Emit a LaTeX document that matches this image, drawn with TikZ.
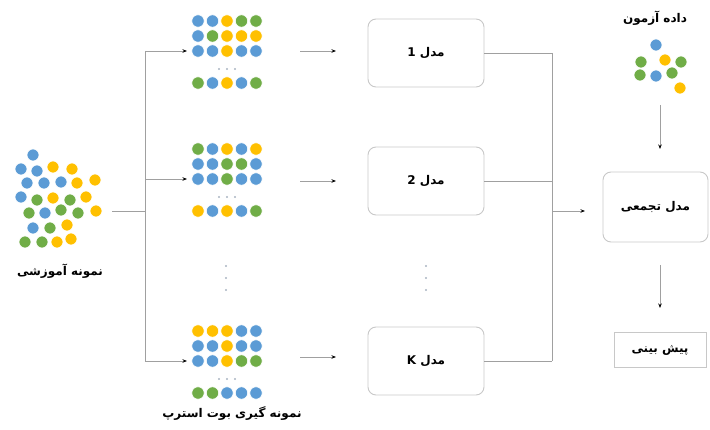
\documentclass[tikz,border=0pt]{standalone}
\usepackage{fontspec}
\newfontfamily\fa[Script=Arabic]{DejaVu Sans}
\TeXXeTstate=1
\usetikzlibrary{arrows.meta}
\definecolor{cb}{HTML}{5B9BD5}
\definecolor{cy}{HTML}{FFC000}
\definecolor{cg}{HTML}{70AD47}
\definecolor{ln}{HTML}{A0A0A0}
\definecolor{bx}{HTML}{C8C8C8}
\definecolor{ell}{HTML}{A9B4C2}
\newcommand\mydotrow[3]{\foreach \c [count=\i from 0] in {#3} {\filldraw[fill=\c,draw=white,line width=0.6pt] ({#1+\i*14.5},#2) circle (6.2);}}
\newcommand\myell[2]{\foreach \i in {-1,0,1} {\fill[ell] ({#1+\i*8},#2) circle (1.1);}}
\tikzset{
 conn/.style={draw=ln, line width=0.9pt},
 arr/.style={conn, -{Stealth[length=4.5pt,width=3.5pt,black]}},
 modelbox/.style={draw=bx, rounded corners=8pt, line width=0.9pt, minimum width=116pt, minimum height=68pt, font=\fa\bfseries\fontsize{12}{14}\selectfont},
 lbl/.style={font=\fa\bfseries\fontsize{12}{14}\selectfont, inner sep=1pt},
}
\begin{document}
\begin{tikzpicture}[x=1pt,y=-1pt]
\useasboundingbox (0,0) rectangle (710,430);
% training cluster
\foreach \px/\py/\c in {33/155/cb,
 21/169/cb,37/171/cb,53/167/cy,72/169/cy,
 27/183/cb,44/183/cb,61/182/cb,77/183/cy,95/180/cy,
 21/197/cb,37/200/cg,53/198/cy,70/200/cg,86/197/cy,
 29/213/cg,45/213/cb,61/210/cg,78/213/cg,96/211/cy,
 33/228/cb,50/228/cg,67/225/cy,
 25/242/cg,42/242/cg,57/242/cy,71/239/cy}
 {\filldraw[fill=\c,draw=white,line width=0.6pt] (\px,\py) circle (6);}
\node[lbl] (trainlbl) at (60,271) {\beginR نمونه آموزشی\endR};
% bootstrap grids
\mydotrow{198}{21}{cb,cb,cy,cg,cg}
\mydotrow{198}{36}{cb,cg,cy,cy,cy}
\mydotrow{198}{51}{cb,cb,cy,cb,cb}
\myell{227}{69}
\mydotrow{198}{83}{cg,cb,cy,cb,cg}
\mydotrow{198}{149}{cg,cb,cy,cb,cy}
\mydotrow{198}{164}{cb,cb,cg,cg,cb}
\mydotrow{198}{179}{cb,cb,cg,cb,cb}
\myell{227}{197}
\mydotrow{198}{211}{cy,cb,cy,cb,cg}
\mydotrow{198}{331}{cy,cy,cy,cb,cb}
\mydotrow{198}{346}{cb,cb,cy,cb,cb}
\mydotrow{198}{361}{cb,cb,cy,cg,cg}
\myell{227}{379}
\mydotrow{198}{393}{cg,cg,cb,cb,cb}
\foreach \yy in {266,278,290} {\fill[ell] (226,\yy) circle (1.2); \fill[ell] (426,\yy) circle (1.2);}
\node[lbl] (bootlbl) at (232,414) {\beginR نمونه گیری بوت استرپ\endR};
% models
\node[modelbox] (m1) at (426,53) {\beginR مدل 1\endR};
\node[modelbox] (m2) at (426,181) {\beginR مدل 2\endR};
\node[modelbox] (mk) at (426,361) {\beginR مدل K\endR};
\node[modelbox, minimum width=105pt, minimum height=70pt] (agg) at (655.5,207) {\beginR مدل تجمعی\endR};
\node[draw=bx, line width=0.9pt, minimum width=92pt, minimum height=35pt, font=\fa\bfseries\fontsize{12}{14}\selectfont] (pred) at (660,350) {\beginR پیش بینی\endR};
% test data
\node[lbl] (testlbl) at (655,18) {\beginR داده آزمون\endR};
\foreach \px/\py/\c in {656/45/cb,641/62/cg,665/60/cy,681/62/cg,640/75/cg,656/76/cb,672/73/cg,680/88/cy}
 {\filldraw[fill=\c,draw=white,line width=0.6pt] (\px,\py) circle (6);}
% coordinates
\coordinate (trainout) at (112,211);
\coordinate (split) at (145,211);
\coordinate (s1) at (145,51);
\coordinate (s2) at (145,179);
\coordinate (s3) at (145,361);
\coordinate (g1in) at (187,51);
\coordinate (g2in) at (187,179);
\coordinate (g3in) at (187,361);
\coordinate (g1out) at (300,51);
\coordinate (g2out) at (300,181);
\coordinate (g3out) at (300,357);
\coordinate (m1in) at (336,51);
\coordinate (m2in) at (336,181);
\coordinate (m3in) at (336,357);
\coordinate (j1) at (552,53);
\coordinate (j2) at (552,181);
\coordinate (j3) at (552,361);
\coordinate (jm) at (552,211);
\coordinate (aggin) at (585,211);
\coordinate (testout) at (660,105);
\coordinate (aggtop) at (660,149);
\coordinate (aggout) at (660,265);
\coordinate (predin) at (660,308);
% connectors
\draw[conn] (trainout) -- (split);
\draw[conn] (s1) -- (s3);
\draw[arr] (s1) -- (g1in);
\draw[arr] (s2) -- (g2in);
\draw[arr] (s3) -- (g3in);
\draw[arr] (g1out) -- (m1in);
\draw[arr] (g2out) -- (m2in);
\draw[arr] (g3out) -- (m3in);
\draw[conn] (m1.east) -- (j1);
\draw[conn] (m2.east) -- (j2);
\draw[conn] (mk.east) -- (j3);
\draw[conn] (j1) -- (j3);
\draw[arr] (jm) -- (aggin);
\draw[arr] (testout) -- (aggtop);
\draw[arr] (aggout) -- (predin);
\end{tikzpicture}
\end{document}
